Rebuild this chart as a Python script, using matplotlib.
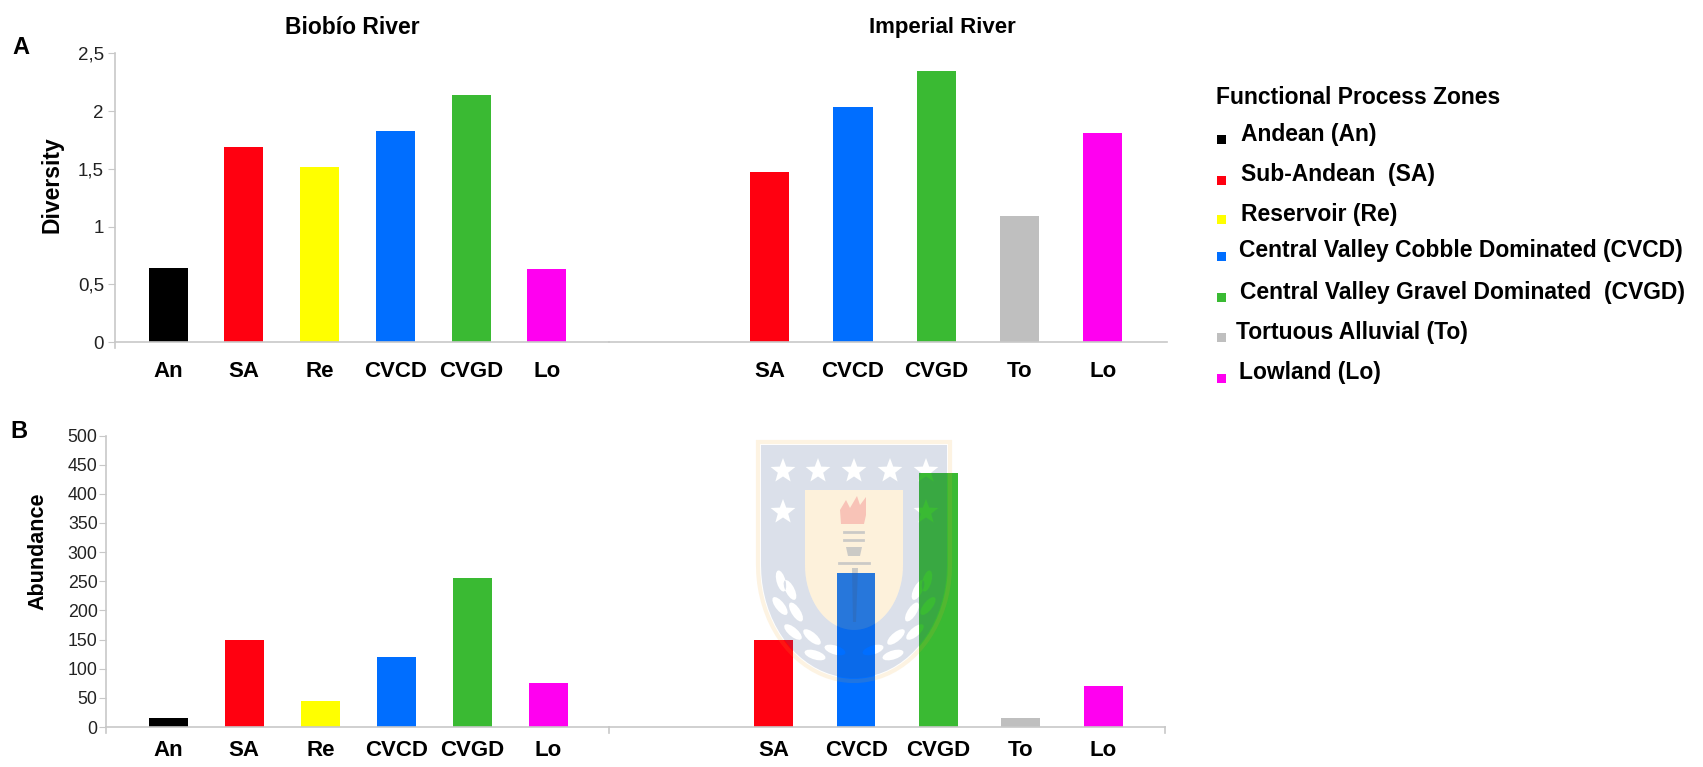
import numpy as np
import matplotlib
matplotlib.use("Agg")
import matplotlib.pyplot as plt
from matplotlib.path import Path
from matplotlib.patches import PathPatch, Polygon, Rectangle

plt.rcParams['font.family'] = ['Liberation Sans', 'DejaVu Sans']

W, H = 1703, 767

colors = {'An': '#000000', 'SA': '#ff0010', 'Re': '#ffff00', 'CVCD': '#006eff',
          'CVGD': '#3aba33', 'To': '#bfbfbf', 'Lo': '#ff00f0'}

biobio_zones = ['An', 'SA', 'Re', 'CVCD', 'CVGD', 'Lo']
imperial_zones = ['SA', 'CVCD', 'CVGD', 'To', 'Lo']

biobio_diversity = [0.64, 1.69, 1.52, 1.83, 2.14, 0.63]
imperial_diversity = [1.47, 2.04, 2.35, 1.09, 1.81]
biobio_abundance = [15, 150, 45, 120, 255, 75]
imperial_abundance = [150, 265, 435, 15, 70]

diversity_ticks = [0, 0.5, 1, 1.5, 2, 2.5]
diversity_labels = ['0', '0,5', '1', '1,5', '2', '2,5']
abundance_ticks = [0, 50, 100, 150, 200, 250, 300, 350, 400, 450, 500]

legend_names = ['Andean (An)', 'Sub-Andean  (SA)', 'Reservoir (Re)',
                'Central Valley Cobble Dominated (CVCD)',
                'Central Valley Gravel Dominated  (CVGD)',
                'Tortuous Alluvial (To)', 'Lowland (Lo)']
legend_zones = ['An', 'SA', 'Re', 'CVCD', 'CVGD', 'To', 'Lo']

fig = plt.figure(figsize=(W / 100, H / 100), dpi=100)


def px_axes(left, top, right, bottom):
    return fig.add_axes([left / W, 1 - bottom / H, (right - left) / W, (bottom - top) / H])


def river_axes(box, zones, values, xlim, ymax, width, pad):
    ax = px_axes(*box)
    x = np.arange(len(zones))
    ax.bar(x, values, width=width, color=[colors[z] for z in zones])
    ax.set_xlim(*xlim)
    ax.set_ylim(0, ymax)
    ax.set_xticks(x, zones, fontsize=16, fontweight='bold')
    ax.tick_params(axis='x', length=0, pad=pad)
    ax.patch.set_alpha(0)
    for s in ['top', 'right', 'left']:
        ax.spines[s].set_visible(False)
    ax.spines['bottom'].set_color('#c8c8c8')
    ax.spines['bottom'].set_linewidth(1.2)
    return ax


def style_y(ax, ticks, labels, name, labelxy, size, tsize, tlen, tpad):
    ax.spines['left'].set_visible(True)
    ax.spines['left'].set_color('#c8c8c8')
    ax.spines['left'].set_linewidth(1.2)
    ax.set_yticks(ticks, labels, fontsize=tsize, color='#222222')
    ax.tick_params(axis='y', length=tlen, color='#c8c8c8', pad=tpad)
    ax.set_ylabel(name, fontsize=size, fontweight='bold')
    ax.yaxis.set_label_coords(*labelxy)
    # axis line runs a little below zero
    xl = ax.get_xlim()[0]
    ax.plot([xl, xl], [0, -ax.get_ylim()[1] * 0.022], color='#c8c8c8', lw=1.2, clip_on=False)
    ax.set_xlim(xl, ax.get_xlim()[1])


# panel A
a1 = river_axes((115, 53.5, 609, 342), biobio_zones, biobio_diversity, (-0.70, 5.82), 2.5, 0.515, 14)
a2 = river_axes((609, 53.5, 1167, 342), imperial_zones, imperial_diversity, (-1.93, 4.77), 2.5, 0.47, 14)
a2.set_yticks([])
style_y(a1, diversity_ticks, diversity_labels, 'Diversity', (-0.104, 0.545), 16.5, 13.5, 5, 3)

# panel B
b1 = river_axes((106, 435.5, 609, 727), biobio_zones, biobio_abundance, (-0.82, 5.80), 500, 0.51, 9)
b2 = river_axes((609, 435.5, 1165, 727), imperial_zones, imperial_abundance, (-2.0, 4.75), 500, 0.47, 9)
b2.set_yticks([])
style_y(b1, abundance_ticks, [str(t) for t in abundance_ticks], 'Abundance', (-0.115, 0.603), 15.5, 12.8, 5, 1)
# little separator ticks on the B baseline
b2.plot([-2.0, -2.0], [0, -10], color='#c8c8c8', lw=1.2, clip_on=False)
b2.plot([4.75, 4.75], [0, -10], color='#c8c8c8', lw=1.2, clip_on=False)
b2.set_xlim(-2.0, 4.75)

# overlay in image pixels for titles, legend and watermark
ov = fig.add_axes([0, 0, 1, 1], zorder=10)
ov.set_xlim(0, W)
ov.set_ylim(H, 0)
ov.axis('off')

ov.text(352, 27, 'Biobío River', fontsize=16.5, fontweight='bold', ha='center', va='center')
ov.text(942, 27, 'Imperial River', fontsize=16, fontweight='bold', ha='center', va='center')
ov.text(21, 48, 'A', fontsize=17, fontweight='bold', ha='center', va='center')
ov.text(19, 432, 'B', fontsize=17, fontweight='bold', ha='center', va='center')

ov.text(1216, 98, 'Functional Process Zones', fontsize=16.5, fontweight='bold', va='center')
legend_y = [134, 175, 214, 251, 292, 332, 373]
legend_x = [1241, 1241, 1241, 1239, 1240, 1236, 1239]
for name, z, yy, xx in zip(legend_names, legend_zones, legend_y, legend_x):
    ov.add_patch(Rectangle((1217, yy + 1), 9, 9, color=colors[z], lw=0))
    ov.text(xx, yy, name, fontsize=16.5, fontweight='bold', va='center')


# faint university crest
def star(cx, cy, r):
    a = np.pi / 2 + np.arange(10) * np.pi / 5
    rad = np.where(np.arange(10) % 2 == 0, r, r * 0.42)
    return np.c_[cx + rad * np.cos(a), cy - rad * np.sin(a)]


def shield(left, right, top, shoulder, bottom):
    t = np.linspace(np.pi, 0, 40)
    cx = (left + right) / 2
    arc = np.c_[cx + (right - left) / 2 * np.cos(t), shoulder + (bottom - shoulder) * np.sin(t)]
    return np.vstack([[left, top], arc, [right, top]])


def leaf(cx, cy, a, b, ang):
    t = np.linspace(0, 2 * np.pi, 16)
    x, y = a * np.cos(t), b * np.sin(t)
    return np.c_[cx + x * np.cos(ang) - y * np.sin(ang), cy + x * np.sin(ang) + y * np.cos(ang)]


def ring(v):
    v = np.vstack([v, v[0]])
    codes = [Path.MOVETO] + [Path.LINETO] * (len(v) - 2) + [Path.CLOSEPOLY]
    return v, codes


def area(v):
    return 0.5 * np.sum(v[:, 0] * np.roll(v[:, 1], -1) - np.roll(v[:, 0], -1) * v[:, 1])


outer = shield(761, 947, 445, 565, 678)
inner = shield(805, 903, 490, 565, 630)
holes = [inner]
for sx in [783, 818, 854, 890, 926]:
    holes.append(star(sx, 471, 13))
holes.append(star(783, 512, 13))
holes.append(star(926, 512, 13))
for cx, cy, ang in [(781, 581, 1.3), (790, 590, 1.1), (780, 606, 0.9), (796, 612, 1.0), (793, 632, 0.7),
                    (812, 637, 0.7), (815, 655, 0.3), (835, 650, 0.3),
                    (927, 581, -1.3), (918, 590, -1.1), (928, 606, -0.9), (912, 612, -1.0), (915, 632, -0.7),
                    (896, 637, -0.7), (893, 655, -0.3), (873, 650, -0.3)]:
    holes.append(leaf(cx, cy, 11, 4.5, ang))

vs, cs = ring(outer)
verts, codes = [vs], list(cs)
sign = np.sign(area(outer))
for h in holes:
    if np.sign(area(h)) == sign:
        h = h[::-1]
    vs, cs = ring(h)
    verts.append(vs)
    codes += cs
ov.add_patch(PathPatch(Path(np.vstack(verts), codes), facecolor=(0.22, 0.345, 0.545), alpha=0.18, lw=0))

# cream border and inner field
ov.add_patch(PathPatch(Path(*ring(shield(758, 950, 442, 565, 681))), facecolor='none',
                       edgecolor='#f5a623', alpha=0.13, lw=3))
ov.add_patch(Polygon(inner, facecolor='#f7a823', alpha=0.16, lw=0))

# torch
ov.add_patch(Polygon([(841, 524), (840, 510), (846, 500), (850, 508), (857, 496), (860, 505),
                      (866, 497), (866, 515), (864, 524)], facecolor='#e8203a', alpha=0.22, lw=0))
for yy, x0, x1 in [(532, 844, 863), (540, 844, 863)]:
    ov.plot([x0, x1], [yy, yy], color='#38588b', alpha=0.25, lw=2)
ov.add_patch(Polygon([(846, 547), (862, 547), (860, 556), (848, 556)], facecolor='#38588b', alpha=0.25, lw=0))
ov.plot([839, 869], [563, 563], color='#38588b', alpha=0.25, lw=2)
ov.add_patch(Polygon([(852, 568), (858, 568), (856, 622), (853, 622)], facecolor='#38588b', alpha=0.25, lw=0))

fig.savefig('out.png', dpi=100)
